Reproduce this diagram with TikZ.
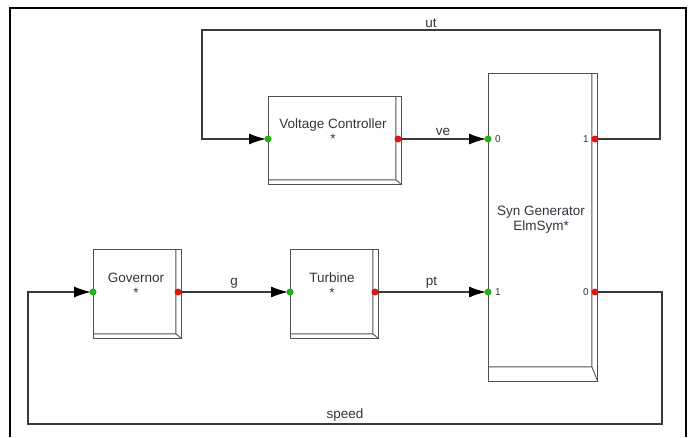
\documentclass[tikz,border=0pt]{standalone}
\usepackage{fontspec}
\setmainfont{Liberation Sans}
\usetikzlibrary{calc,arrows.meta}
\definecolor{wire}{HTML}{3A3A3A}
\definecolor{edgex}{HTML}{505050}
\definecolor{txtx}{HTML}{34343F}
\definecolor{portin}{HTML}{1DB31D}
\definecolor{portout}{HTML}{E31414}
\tikzset{
  blk/.style={draw=edgex,line width=0.9pt,rectangle,anchor=north west,inner sep=0pt},
  sig/.style={draw=wire,line width=1.1pt},
  ar/.style={sig,-{Latex[length=17pt,width=11pt,black]},shorten >=2pt},
  lbl/.style={text=txtx,font=\fontsize{13.5}{15}\selectfont,align=center,inner sep=1pt},
  pnum/.style={text=txtx,font=\fontsize{10}{12}\selectfont,inner sep=1pt}
}
\begin{document}
\begin{tikzpicture}[x=1pt,y=-1pt]
\fill[white] (0,0) rectangle (692,437);
\useasboundingbox (0,0) rectangle (692,437);
% outer frame
\draw[black,line width=1.8pt] (10,437) |- (686,8) -- (686,437);

% blocks
\node[blk,minimum width=133pt,minimum height=88pt] (vc) at (268,96) {};
\node[blk,minimum width=88pt,minimum height=89pt] (gov) at (93,249) {};
\node[blk,minimum width=88pt,minimum height=89pt] (tur) at (290,249) {};
\node[blk,minimum width=109pt,minimum height=308pt] (syn) at (488,73) {};
\foreach \n/\d in {vc/5,gov/5,tur/5,syn/15}
  \draw[edgex,line width=0.9pt] ($(\n.north east)+(-6,0)$) -- ($(\n.south east)+(-6,-\d)$) -- ($(\n.south west)+(0,-\d)$)
    ($(\n.south east)+(-6,-\d)$) -- (\n.south east);

\node[lbl] (vc-t) at (333,131) {Voltage Controller\\*};
\node[lbl] (gov-t) at (136,285) {Governor\\*};
\node[lbl] (tur-t) at (332,285) {Turbine\\*};
\node[lbl] (syn-t) at (541,220) {Syn Generator\\ElmSym*};

% ports
\coordinate (vc-in) at (268,139);
\coordinate (vc-out) at (398,139);
\coordinate (gov-in) at (93,292);
\coordinate (gov-out) at (178,292);
\coordinate (tur-in) at (290,292);
\coordinate (tur-out) at (375,292);
\coordinate (syn-i0) at (488,139);
\coordinate (syn-i1) at (488,292);
\coordinate (syn-o1) at (595,139);
\coordinate (syn-o0) at (595,292);
\node[pnum] (syn-n0) at (498,139) {0};
\node[pnum] (syn-n1) at (498,292) {1};
\node[pnum] (syn-m1) at (586,139) {1};
\node[pnum] (syn-m0) at (586,292) {0};

% feedback corners
\coordinate (utR) at (660,30);
\coordinate (utL) at (202,30);
\coordinate (spR) at (662,424);
\coordinate (spL) at (28,424);

% signals
\draw[ar] (vc-out) -- node[lbl,above=2pt] (ve-t) {ve} (syn-i0);
\draw[ar] (gov-out) -- node[lbl,above=2pt] (g-t) {g} (tur-in);
\draw[ar] (tur-out) -- node[lbl,above=2pt] (pt-t) {pt} (syn-i1);
\draw[ar] (syn-o1) -| (utR) -- node[lbl,above=1pt] (ut-t) {ut} (utL) |- (vc-in);
\draw[ar] (syn-o0) -| (spR) -- node[lbl,above=1pt] (sp-t) {speed} (spL) |- (gov-in);

% port dots
\foreach \p in {vc-in,gov-in,tur-in,syn-i0,syn-i1}
  \fill[portin] (\p) circle (3.5pt);
\foreach \p in {vc-out,gov-out,tur-out,syn-o1,syn-o0}
  \fill[portout] (\p) circle (3.5pt);
\end{tikzpicture}
\end{document}
